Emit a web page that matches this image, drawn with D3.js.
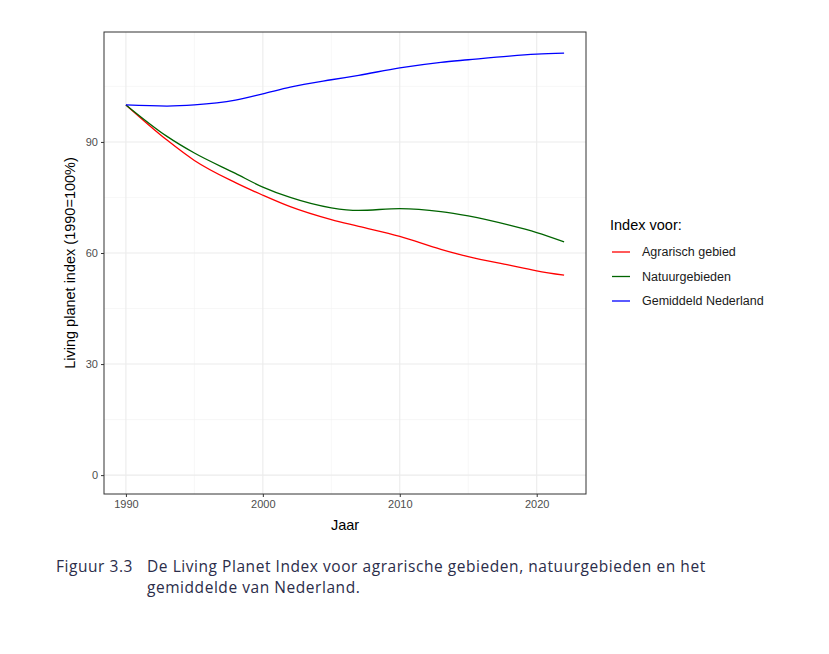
<!DOCTYPE html>
<html><head><meta charset="utf-8">
<script src="https://cdn.jsdelivr.net/npm/d3@7"></script>
<style>body{margin:0;background:#fff}</style>
</head><body>
<svg id="chart" width="829" height="654"></svg>
<script>
const years = [1990, 1993, 1995, 1998, 2000, 2002, 2005, 2007, 2010, 2013, 2015, 2018, 2020, 2022];
const agrarisch = [100, 90.5, 85, 79, 75.6, 72.5, 69, 67.2, 64.5, 61, 59, 56.7, 55.2, 54];
const natuur = [100, 91.5, 87, 81.5, 77.8, 75, 72.2, 71.5, 72, 71.2, 70, 67.5, 65.5, 63];
const gemiddeld = [100, 99.7, 100, 101.3, 103, 104.8, 106.8, 108, 110, 111.5, 112.2, 113.2, 113.7, 114];
const seriesNames = ["Agrarisch gebied", "Natuurgebieden", "Gemiddeld Nederland"];
const seriesColors = ["#ff0000", "#006400", "#0000ff"];
const xTicks = [1990, 2000, 2010, 2020];
const yTicks = [0, 30, 60, 90];

const svg = d3.select("#chart");
const L = 104, R = 586, T = 32, B = 494;
const x = d3.scaleLinear().domain([1988.4, 2023.6]).range([L, R]);
const y = d3.scaleLinear().domain([-5.1, 119.7]).range([B, T]);

const grid = svg.append("g");
[1995, 2005, 2015].forEach(v => grid.append("line").attr("x1", x(v)).attr("x2", x(v)).attr("y1", T).attr("y2", B).attr("stroke", "#f2f2f2").attr("stroke-width", 0.6));
[15, 45, 75, 105].forEach(v => grid.append("line").attr("x1", L).attr("x2", R).attr("y1", y(v)).attr("y2", y(v)).attr("stroke", "#f2f2f2").attr("stroke-width", 0.6));
xTicks.forEach(v => grid.append("line").attr("x1", x(v)).attr("x2", x(v)).attr("y1", T).attr("y2", B).attr("stroke", "#ebebeb").attr("stroke-width", 1.1));
yTicks.forEach(v => grid.append("line").attr("x1", L).attr("x2", R).attr("y1", y(v)).attr("y2", y(v)).attr("stroke", "#ebebeb").attr("stroke-width", 1.1));

const line = d3.line().x((d, i) => x(years[i])).y(d => y(d)).curve(d3.curveMonotoneX);
[agrarisch, natuur, gemiddeld].forEach((s, k) =>
  svg.append("path").attr("d", line(s)).attr("fill", "none").attr("stroke", seriesColors[k]).attr("stroke-width", 1.3));

svg.append("rect").attr("x", L).attr("y", T).attr("width", R - L).attr("height", B - T)
  .attr("fill", "none").attr("stroke", "#333").attr("stroke-width", 1);

const font = "Liberation Sans, Arial, sans-serif";
svg.append("g").attr("transform", `translate(0,${B})`)
  .call(d3.axisBottom(x).tickValues(xTicks).tickFormat(d3.format("d")).tickSize(3))
  .call(g => g.select(".domain").remove())
  .call(g => g.selectAll("line").attr("stroke", "#333"))
  .call(g => g.selectAll("text").attr("fill", "#4d4d4d").style("font-size", "11px").style("font-family", font));
svg.append("g").attr("transform", `translate(${L},0)`)
  .call(d3.axisLeft(y).tickValues(yTicks).tickSize(3))
  .call(g => g.select(".domain").remove())
  .call(g => g.selectAll("line").attr("stroke", "#333"))
  .call(g => g.selectAll("text").attr("fill", "#4d4d4d").style("font-size", "11px").style("font-family", font));

svg.append("text").attr("x", (L + R) / 2).attr("y", 530).attr("text-anchor", "middle")
  .style("font-family", font).style("font-size", "14.5px").text("Jaar");
svg.append("text").attr("transform", `translate(75,${(T + B) / 2}) rotate(-90)`).attr("text-anchor", "middle")
  .style("font-family", font).style("font-size", "14.5px").text("Living planet index (1990=100%)");

svg.append("text").attr("x", 610).attr("y", 230).style("font-family", font).style("font-size", "14.5px").text("Index voor:");
seriesNames.forEach((n, k) => {
  const yy = 252 + k * 24.5;
  svg.append("line").attr("x1", 612).attr("x2", 630).attr("y1", yy).attr("y2", yy).attr("stroke", seriesColors[k]).attr("stroke-width", 1.3);
  svg.append("text").attr("x", 642).attr("y", yy + 4).style("font-family", font).style("font-size", "12.5px").attr("fill", "#1a1a1a").text(n);
});

const cf = "Open Sans, sans-serif";
const cap = (t, xx, yy) => svg.append("text").attr("x", xx).attr("y", yy).style("font-family", cf)
  .style("font-size", "15.5px").style("letter-spacing", "0.55px").attr("fill", "#2b2d4a").text(t);
cap("Figuur 3.3", 56, 572);
cap("De Living Planet Index voor agrarische gebieden, natuurgebieden en het", 147, 572);
cap("gemiddelde van Nederland.", 147, 593);
</script>
</body></html>
